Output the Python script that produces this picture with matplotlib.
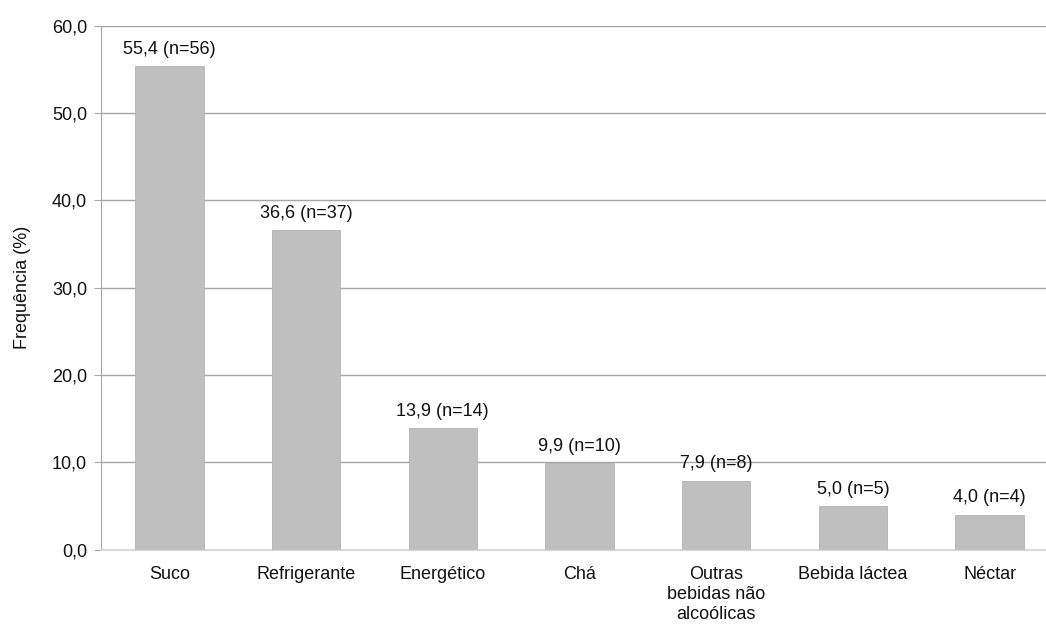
import matplotlib.pyplot as plt

plt.rcParams['font.family'] = ['Liberation Sans', 'DejaVu Sans']

categorias = ["Suco", "Refrigerante", "Energético", "Chá",
              "Outras\nbebidas não\nalcoólicas", "Bebida láctea", "Néctar"]
frequencia = [55.4, 36.6, 13.9, 9.9, 7.9, 5.0, 4.0]
n = [56, 37, 14, 10, 8, 5, 4]

fs = 13

fig = plt.figure(figsize=(10.46, 6.26), dpi=100)
ax = fig.add_axes([101 / 1046, 1 - 549.7 / 626, 957 / 1046, 524 / 626])

x = range(len(categorias))
bars = ax.bar(x, frequencia, width=0.5, color="#bfbfbf", edgecolor="#b3b3b3",
              linewidth=0.6, zorder=3)

for b, v, k in zip(bars, frequencia, n):
    ax.annotate(f"{v:.1f} (n={k})".replace(".", ","),
                (b.get_x() + b.get_width() / 2, v),
                xytext=(0, 6), textcoords="offset points",
                ha="center", va="bottom", fontsize=fs, color="#111111")

ax.set_xlim(-0.5, len(categorias) - 0.5)
ax.set_ylim(0, 60)
ax.set_yticks(range(0, 61, 10))
ax.set_yticklabels([f"{t:.1f}".replace(".", ",") for t in range(0, 61, 10)])
ax.set_xticks(list(x))
ax.set_xticklabels(categorias, fontsize=fs, linespacing=1.2, color="#111111")
ax.tick_params(axis="x", length=0, pad=12)
ax.tick_params(axis="y", length=5, color="#a6a6a6", labelsize=fs, pad=5,
               labelcolor="#111111")

ax.yaxis.grid(True, color="#a6a6a6", linewidth=1.0, zorder=0)
ax.set_axisbelow(True)
for s in ["top", "right"]:
    ax.spines[s].set_visible(False)
ax.spines["left"].set_color("#a6a6a6")
ax.spines["bottom"].set_color("#d9d9d9")
ax.spines["bottom"].set_linewidth(1.5)

ax.set_ylabel("Frequência (%)", fontsize=fs, labelpad=15, color="#111111")

fig.savefig("out.png", dpi=100)
